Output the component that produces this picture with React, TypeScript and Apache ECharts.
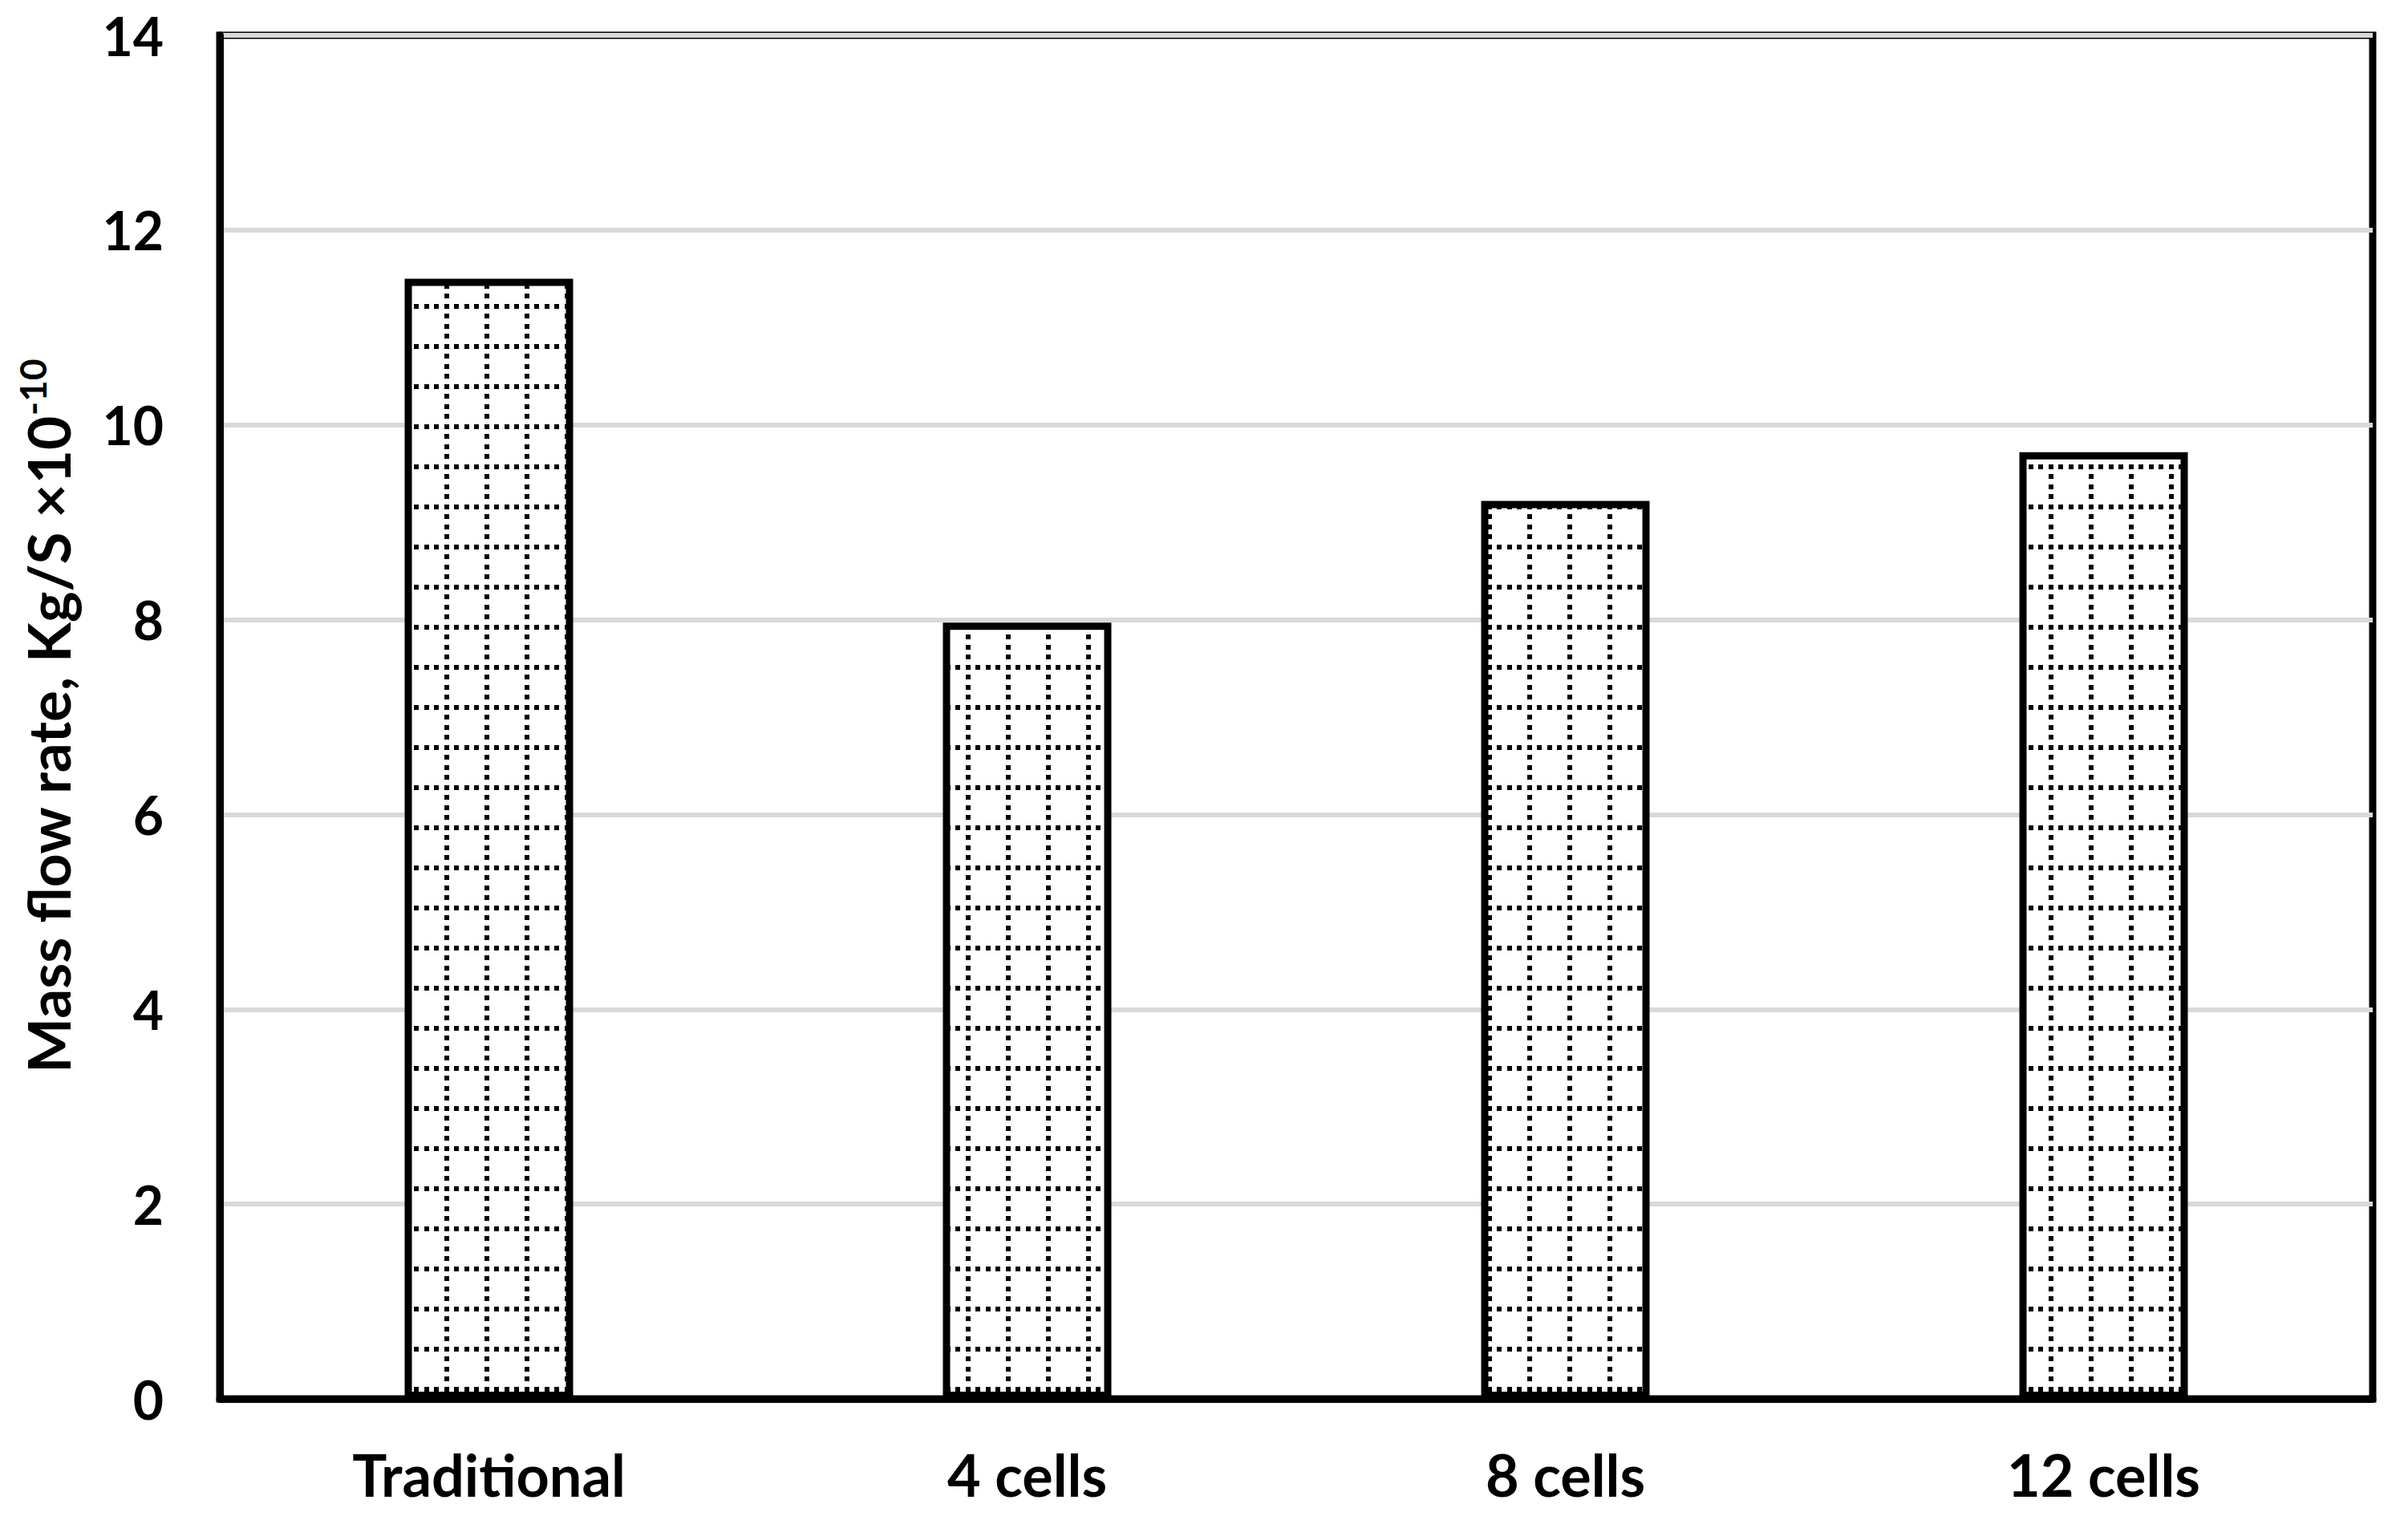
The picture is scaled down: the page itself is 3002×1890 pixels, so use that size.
import React, { useEffect, useRef } from "react";
import * as echarts from "echarts";

const categories = ["Traditional", "4 cells", "8 cells", "12 cells"];
const massFlow = [11.5, 7.97, 9.22, 9.72];
const yMin = 0;
const yMax = 14;
const yInterval = 2;
const yAxisTitle = "Mass flow rate, Kg/S ×10";
const yAxisTitleSup = "-10";

function makePatternImage(): string {
  const size = 50;
  const c = document.createElement("canvas");
  c.width = size;
  c.height = size;
  const ctx = c.getContext("2d")!;
  ctx.fillStyle = "#ffffff";
  ctx.fillRect(0, 0, size, size);
  ctx.fillStyle = "#000000";
  const pos = [7, 19, 32, 44];
  for (const p of pos) {
    ctx.fillRect(7 - 3, p - 3, 6, 6);
    ctx.fillRect(p - 3, 32 - 3, 6, 6);
  }
  return c.toDataURL();
}

export default function App() {
  const ref = useRef<HTMLDivElement>(null);
  useEffect(() => {
    if (!ref.current) return;
    const chart = echarts.init(ref.current, null, { renderer: "svg" });
    const pattern: any = {
      image: makePatternImage(),
      repeat: "repeat",
      imageWidth: 50,
      imageHeight: 50,
    };
    const font = "Lato";
    chart.setOption({
      animation: false,
      backgroundColor: "#ffffff",
      grid: {
        left: 274,
        right: 44,
        top: 44,
        bottom: 146,
        show: true,
        borderColor: "#000000",
        borderWidth: 9,
        backgroundColor: "transparent",
      },
      xAxis: {
        type: "category",
        data: categories,
        axisLine: { show: true, lineStyle: { color: "#000000", width: 9 } },
        axisTick: { show: false },
        axisLabel: {
          color: "#000000",
          fontFamily: font,
          fontWeight: "bold",
          fontSize: 72,
          margin: 58,
        },
      },
      yAxis: {
        type: "value",
        min: yMin,
        max: yMax,
        interval: yInterval,
        axisLine: { show: true, lineStyle: { color: "#000000", width: 9 } },
        axisTick: { show: false },
        splitLine: { show: true, lineStyle: { color: "#d9d9d9", width: 6 } },
        axisLabel: {
          color: "#000000",
          fontFamily: font,
          fontWeight: "bold",
          fontSize: 66,
          margin: 70,
        },
      },
      series: [
        {
          type: "bar",
          data: massFlow,
          barWidth: 210,
          itemStyle: {
            color: pattern,
            borderColor: "#000000",
            borderWidth: 9,
          },
        },
      ],
      graphic: [
        {
          type: "text",
          x: 60,
          y: 893,
          rotation: Math.PI / 2,
          style: {
            text: "{a|" + yAxisTitle + "}{b|" + yAxisTitleSup + "}",
            align: "center",
            verticalAlign: "middle",
            rich: {
              a: {
                fontFamily: font,
                fontWeight: "bold",
                fontSize: 73,
                lineHeight: 86,
                fill: "#000000",
                color: "#000000",
              },
              b: {
                fontFamily: font,
                fontWeight: "bold",
                fontSize: 46,
                lineHeight: 46,
                verticalAlign: "top",
                fill: "#000000",
                color: "#000000",
              },
            },
          },
        },
      ],
    });
    return () => chart.dispose();
  }, []);
  return (
    <div
      ref={ref}
      style={{ position: "fixed", left: 0, top: 0, width: 3002, height: 1890 }}
    />
  );
}
